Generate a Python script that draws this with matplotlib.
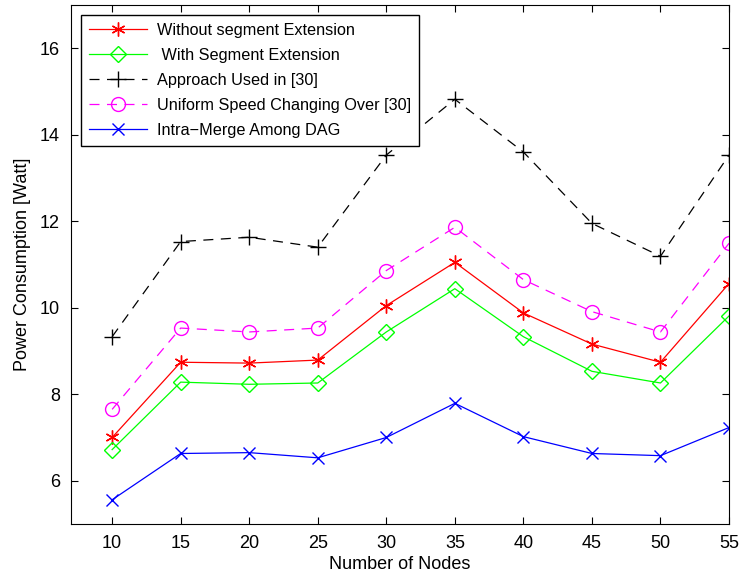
import matplotlib
matplotlib.use("Agg")
import matplotlib.pyplot as plt

# donnees
noeuds = [10, 15, 20, 25, 30, 35, 40, 45, 50, 55]
sans_extension = [7.0, 8.74, 8.72, 8.79, 10.05, 11.05, 9.88, 9.16, 8.74, 10.56]
avec_extension = [6.72, 8.28, 8.23, 8.26, 9.44, 10.44, 9.33, 8.53, 8.26, 9.81]
approche_30 = [9.33, 11.53, 11.63, 11.40, 13.53, 14.82, 13.6, 11.95, 11.19, 13.53]
vitesse_uniforme = [7.65, 9.53, 9.44, 9.53, 10.86, 11.86, 10.65, 9.91, 9.44, 11.49]
intra_merge = [5.56, 6.63, 6.65, 6.53, 7.0, 7.79, 7.02, 6.63, 6.58, 7.23]

plt.rcParams['font.family'] = ['Liberation Sans', 'DejaVu Sans']

fig = plt.figure(figsize=(7.42, 5.79), dpi=100)
ax = fig.add_axes([0.0957, 0.095, 0.8868, 0.8964])

lw = 0.9
# asterisque facon matlab
ax.plot(noeuds, sans_extension, color='red', marker=(6, 2, 0), markersize=10, linewidth=lw,
        markeredgewidth=1.0, label='Without segment Extension')
ax.plot(noeuds, avec_extension, color='#00ff00', marker='D', markersize=8.5, linewidth=lw,
        markerfacecolor='none', label=' With Segment Extension')
ax.plot(noeuds, approche_30, color='black', marker='+', markersize=12, linewidth=lw,
        linestyle=(0, (8, 6)), label='Approach Used in [30]')
ax.plot(noeuds, vitesse_uniforme, color='magenta', marker='o', markersize=10, linewidth=lw,
        markerfacecolor='none', linestyle=(0, (8, 6)), label='Uniform Speed Changing Over [30]')
ax.plot(noeuds, intra_merge, color='blue', marker='x', markersize=8, linewidth=lw,
        label='Intra\u2212Merge Among DAG')

ax.set_xlim(7, 55)
ax.set_ylim(5, 17)
ax.set_xticks(noeuds)
ax.set_yticks([6, 8, 10, 12, 14, 16])
ax.tick_params(direction='in', top=True, right=True, labelsize=13, length=5, pad=8)
ax.set_xlabel('Number of Nodes', fontsize=13, labelpad=3)
ax.set_ylabel('Power Consumption [Watt]', fontsize=13, labelpad=6)

leg = ax.legend(loc='upper left', fontsize=11.7, fancybox=False, framealpha=1,
                edgecolor='black', borderaxespad=0.6, handlelength=3.6,
                handletextpad=0.6, labelspacing=0.62, borderpad=0.5)
leg.get_frame().set_linewidth(1.0)

fig.savefig('out.png', dpi=100)
